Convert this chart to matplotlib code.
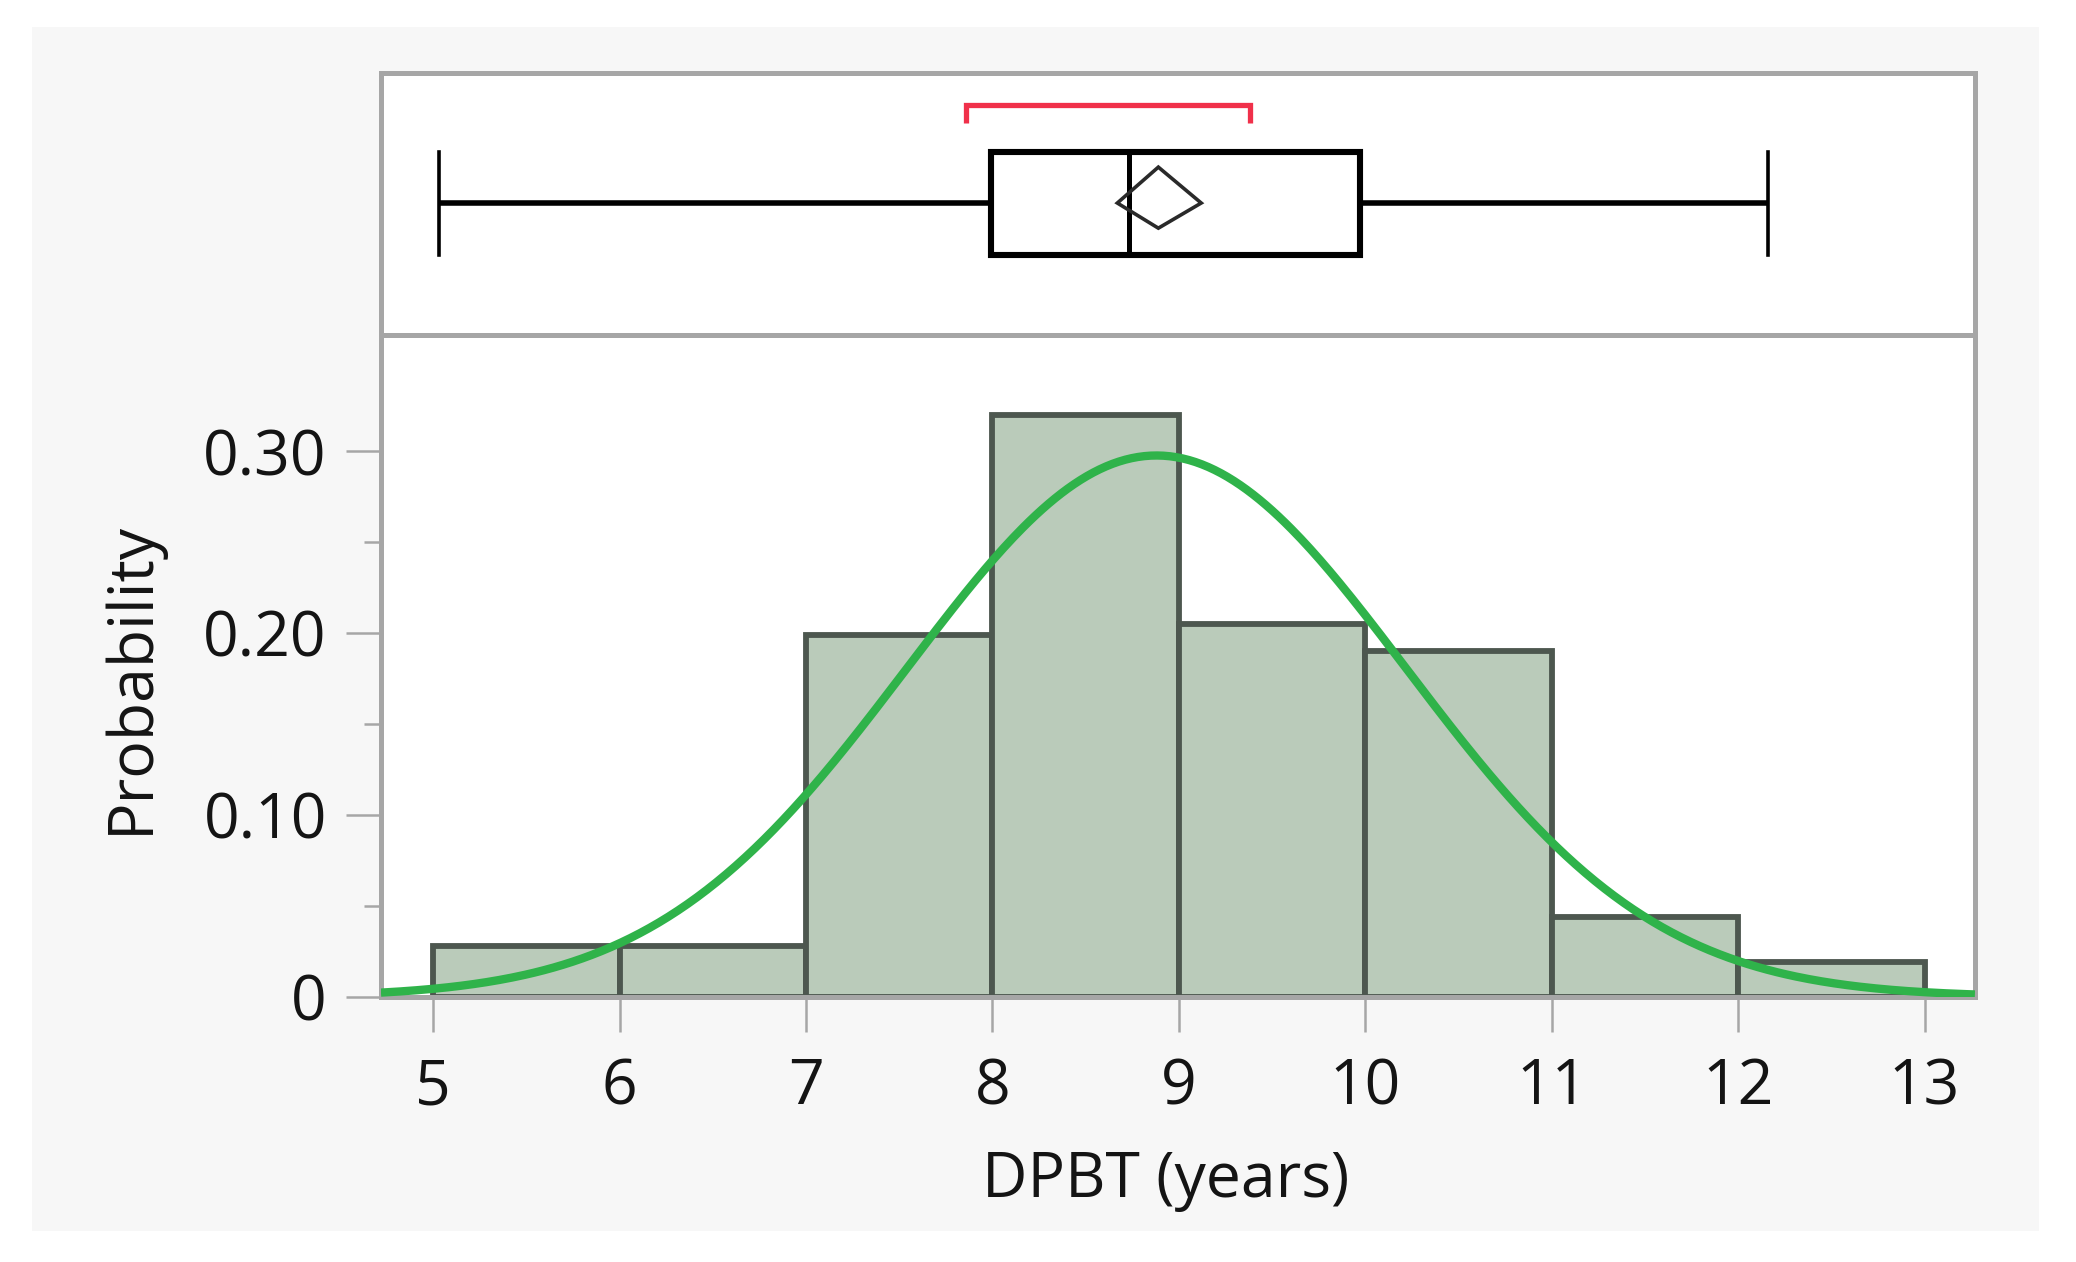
import numpy as np
import matplotlib
matplotlib.use('Agg')
import matplotlib.pyplot as plt
from matplotlib.patches import Rectangle, Polygon

plt.rcParams['font.family'] = ['Open Sans', 'DejaVu Sans']

# histogram data (probability per 1-year bin)
bin_edges = [5, 6, 7, 8, 9, 10, 11, 12, 13]
probs = [0.028, 0.028, 0.199, 0.320, 0.205, 0.190, 0.044, 0.019]

# fitted normal
fit_mean = 8.88
fit_sd = 1.34

# box plot summary
whisker_lo = 5.03
q1 = 7.99
median = 8.73
q3 = 9.97
whisker_hi = 12.16
mean = 8.89
mean_ci = [8.67, 9.12]
shortest_half = [7.86, 9.38]

x_ticks = [5, 6, 7, 8, 9, 10, 11, 12, 13]
y_ticks = [0, 0.10, 0.20, 0.30]
y_ticklabels = ['0', '0.10', '0.20', '0.30']
y_minor = [0.05, 0.15, 0.25]

xlim = (4.72, 13.27)
ylim = (0, 0.364)

frame_col = '#a6a6a6'
frame_lw = 3.6
fs = 45

fig = plt.figure(figsize=(20.76, 12.62), dpi=100)
fig.patch.set_facecolor('white')
fig.patches.append(Rectangle((0.0154, 0.0246), 0.9666, 0.9544, transform=fig.transFigure,
                             facecolor='#f7f7f7', edgecolor='none', zorder=-10))

ax = fig.add_axes([0.1835, 0.21, 0.7678, 0.5246])
axb = fig.add_axes([0.1835, 0.7345, 0.7678, 0.2076])

# histogram
widths = np.diff(bin_edges)
ax.bar(bin_edges[:-1], probs, width=widths, align='edge', color='#bacbba',
       edgecolor='#4d574f', linewidth=4.2, zorder=2)

# normal curve
xs = np.linspace(xlim[0], xlim[1], 500)
ys = np.exp(-0.5 * ((xs - fit_mean) / fit_sd) ** 2) / (fit_sd * np.sqrt(2 * np.pi))
ax.plot(xs, ys, color='#2fb34a', linewidth=6.0, zorder=3, solid_capstyle='butt')

ax.set_xlim(xlim)
ax.set_ylim(ylim)
ax.set_xticks(x_ticks)
ax.set_xticklabels([str(t) for t in x_ticks])
ax.set_yticks(y_ticks)
ax.set_yticklabels(y_ticklabels)
ax.set_yticks(y_minor, minor=True)
ax.tick_params(axis='both', which='major', length=25, width=1.8, color=frame_col,
               labelsize=fs, labelcolor='#141414')
ax.tick_params(axis='y', which='major', pad=14)
ax.tick_params(axis='x', which='major', pad=18)
ax.tick_params(axis='y', which='minor', length=12, width=1.8, color=frame_col)
for s in ax.spines.values():
    s.set_color(frame_col)
    s.set_linewidth(frame_lw)
ax.set_facecolor('white')

fig.text(0.0636, 0.4635, 'Probability', rotation=90, ha='center', va='center',
         fontsize=fs, color='#141414')
fig.text(0.5617, 0.0640, 'DPBT (years)', ha='center', va='center',
         fontsize=fs, color='#141414')

# box plot panel
box_lo, box_hi, mid = 0.305, 0.698, 0.504
axb.set_xlim(xlim)
axb.set_ylim(0, 1)
axb.set_xticks([])
axb.set_yticks([])
for s in axb.spines.values():
    s.set_color(frame_col)
    s.set_linewidth(frame_lw)
axb.set_facecolor('white')

axb.plot([whisker_lo, q1], [mid, mid], color='black', lw=4.0, solid_capstyle='butt')
axb.plot([q3, whisker_hi], [mid, mid], color='black', lw=4.0, solid_capstyle='butt')
axb.plot([whisker_lo, whisker_lo], [box_lo, box_hi], color='black', lw=2.6)
axb.plot([whisker_hi, whisker_hi], [box_lo, box_hi], color='black', lw=2.6)
axb.add_patch(Rectangle((q1, box_lo), q3 - q1, box_hi - box_lo, facecolor='white',
                        edgecolor='black', linewidth=4.4, zorder=3))
axb.plot([median, median], [box_lo, box_hi], color='black', lw=3.6, zorder=4)
diamond = Polygon([(mean_ci[0], mid), (mean, 0.641), (mean_ci[1], mid), (mean, 0.408)],
                  closed=True, facecolor='none', edgecolor='#2a2a2a', linewidth=2.6, zorder=5)
axb.add_patch(diamond)
axb.plot([shortest_half[0], shortest_half[0], shortest_half[1], shortest_half[1]],
         [0.809, 0.878, 0.878, 0.809], color='#f0304a', lw=3.8,
         solid_joinstyle='miter', solid_capstyle='butt')

fig.savefig('out.png', dpi=100, facecolor=fig.get_facecolor())
